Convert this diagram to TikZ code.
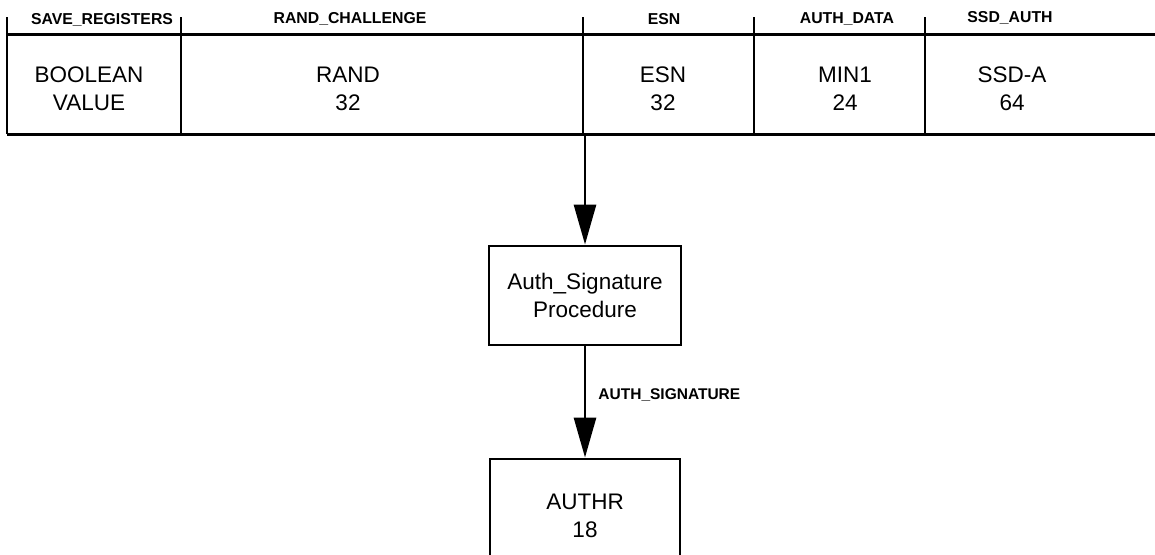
\documentclass[tikz,border=0pt]{standalone}
\usepackage{fontspec}
\setmainfont{Liberation Sans}
\usetikzlibrary{arrows.meta}
\begin{document}
\begin{tikzpicture}[x=1pt,y=-1pt,
  hdr/.style={font=\bfseries\fontsize{15.8}{17}\selectfont, inner sep=0pt},
  val/.style={font=\fontsize{22.5}{28}\selectfont, align=center, inner sep=0pt},
  box/.style={draw, line width=2.9pt, align=center, font=\fontsize{22.5}{28}\selectfont, inner sep=0pt},
  tbl/.style={line width=3pt},
  flow/.style={line width=2.9pt, -{Triangle[length=40pt,width=22pt]}},
  lbl/.style={font=\bfseries\fontsize{15.5}{17}\selectfont, inner sep=0pt, anchor=west}
]
\clip (0,0) rectangle (1155,554);
\fill[white] (0,0) rectangle (1155,554);
% table lines
\draw[tbl] (7,34) -- (1155,34);
\draw[tbl] (7,134) -- (1155,134);
\foreach \x in {7,181,583,754,925} {
  \draw[line width=2.9pt] (\x,17) -- (\x,134);
}
% header labels
\node[hdr] (h1) at (102,20) {SAVE\_REGISTERS};
\node[hdr] (h2) at (350,19) {RAND\_CHALLENGE};
\node[hdr] (h3) at (664,19) {ESN};
\node[hdr] (h4) at (847,19) {AUTH\_DATA};
\node[hdr] (h5) at (1010,18) {SSD\_AUTH};
% field values
\node[val] (v1) at (89,89) {BOOLEAN\\VALUE};
\node[val] (v2) at (348,89) {RAND\\32};
\node[val] (v3) at (663,89) {ESN\\32};
\node[val] (v4) at (845,89) {MIN1\\24};
\node[val] (v5) at (1012,89) {SSD-A\\64};
\coordinate (src) at (585,134);
% procedure
\node[box, minimum width=192pt, minimum height=99pt] (proc) at (585,295.5) {Auth\_Signature\\Procedure};
\node[box, minimum width=190pt, minimum height=114pt] (authr) at (585,516) {AUTHR\\18};
\draw[flow] (src) -- (proc.north);
\draw[flow] (proc.south) -- (authr.north) node[lbl, pos=0.44, xshift=12pt] {AUTH\_SIGNATURE};
\end{tikzpicture}
\end{document}
